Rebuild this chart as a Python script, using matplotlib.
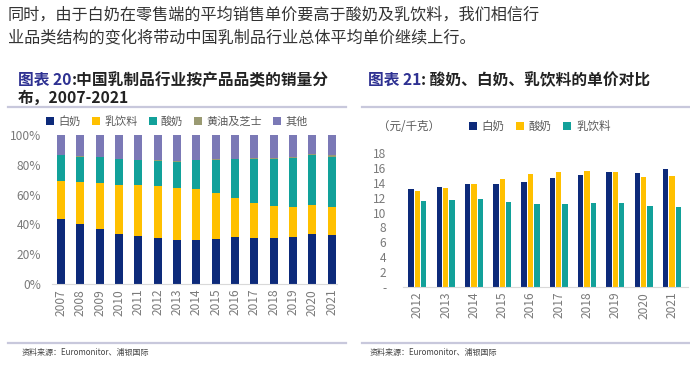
import numpy as np
import matplotlib
matplotlib.use('Agg')
import matplotlib.pyplot as plt
from matplotlib.lines import Line2D

plt.rcParams['font.family'] = ['Noto Sans CJK SC', 'DejaVu Sans']

## left chart: sales volume share by category (%)
years_l = ['2007','2008','2009','2010','2011','2012','2013','2014','2015','2016','2017','2018','2019','2020','2021']
milk = [43.4, 40.3, 36.9, 33.6, 32.0, 30.6, 29.5, 29.5, 30.2, 31.5, 31.1, 31.1, 31.3, 33.6, 33.1]
drink = [26.0, 28.2, 30.9, 33.1, 34.2, 35.2, 34.9, 34.3, 30.7, 26.0, 23.5, 21.5, 20.2, 19.2, 18.6]
yogurt = [17.0, 17.0, 17.2, 17.0, 16.8, 16.8, 17.5, 19.2, 22.5, 26.2, 29.5, 31.3, 33.1, 33.8, 33.8]
butter = [0.4, 0.4, 0.4, 0.4, 0.5, 0.5, 0.5, 0.5, 0.5, 0.5, 0.6, 0.6, 0.7, 0.8, 0.8]
other = [100 - a - b - c - d for a, b, c, d in zip(milk, drink, yogurt, butter)]
names_l = ['白奶', '乳饮料', '酸奶', '黄油及芝士', '其他']

## right chart: unit price (yuan/kg)
years_r = ['2012','2013','2014','2015','2016','2017','2018','2019','2020','2021']
price_milk = [13.1, 13.4, 13.8, 13.9, 14.1, 14.6, 15.1, 15.4, 15.3, 15.8]
price_yogurt = [12.9, 13.3, 13.9, 14.5, 15.2, 15.4, 15.6, 15.4, 14.8, 14.9]
price_drink = [11.6, 11.7, 11.8, 11.4, 11.2, 11.2, 11.3, 11.3, 10.9, 10.8]
names_r = ['白奶', '酸奶', '乳饮料']
yticks_r = [0, 2, 4, 6, 8, 10, 12, 14, 16, 18]

NAVY = '#0d2a7a'
GOLD = '#ffc000'
TEAL = '#12a19a'
OLIVE = '#9a9a72'
LAV = '#7b79b6'
GREY = '#595959'
TICK = '#7a7a7a'
SEP = '#c8c8dc'

W, H = 690, 372
fig = plt.figure(figsize=(6.9, 3.72), dpi=100)

def fx(px):
	return px / W

def fy(py):
	return 1 - py / H

## header paragraph
fig.text(fx(8), fy(15), '同时，由于白奶在零售端的平均销售单价要高于酸奶及乳饮料，我们相信行',
	fontsize=11.6, color='#333333', va='center', ha='left')
fig.text(fx(8), fy(39), '业品类结构的变化将带动中国乳制品行业总体平均单价继续上行。',
	fontsize=11.6, color='#333333', va='center', ha='left')

## titles, blue prefix then black rest
def title(x, y, prefix, rest):
	t = fig.text(fx(x), fy(y), prefix, fontsize=11.3, color='#2e3192', fontweight='bold', va='center')
	fig.canvas.draw()
	bb = t.get_window_extent()
	fig.text(bb.x1 / W, fy(y), rest, fontsize=11.3, color='#222222', fontweight='bold', va='center')

title(18, 80, '图表 20', ':中国乳制品行业按产品品类的销量分')
fig.text(fx(18), fy(98), '布，2007-2021', fontsize=11.3, color='#222222', fontweight='bold', va='center')
title(368, 80, '图表 21', ': 酸奶、白奶、乳饮料的单价对比')

## separator lines
for x0, x1 in [(8, 346), (362, 690)]:
	for y in (107, 343):
		fig.add_artist(Line2D([fx(x0), fx(x1)], [fy(y), fy(y)], color=SEP, lw=1.6))
fig.text(fx(22), fy(353), '资料来源：Euromonitor、浦银国际', fontsize=5.8, color='#444444', va='center')
fig.text(fx(370), fy(353), '资料来源：Euromonitor、浦银国际', fontsize=5.8, color='#444444', va='center')

## left chart
ax1 = fig.add_axes([fx(52), fy(284), fx(285), 149 / H])
x = np.arange(len(years_l))
bottom = np.zeros(len(years_l))
for vals, name, c in zip([milk, drink, yogurt, butter, other], names_l, [NAVY, GOLD, TEAL, OLIVE, LAV]):
	ax1.bar(x, vals, 0.42, bottom=bottom, color=c, label=name)
	bottom += np.array(vals)
ax1.set_ylim(0, 100)
ax1.set_xlim(-0.47, 14.28)
ax1.set_yticks([0, 20, 40, 60, 80, 100])
ax1.set_yticklabels(['%d%%' % v for v in [0, 20, 40, 60, 80, 100]])
ax1.set_xticks(x)
ax1.set_xticklabels(years_l, rotation=90)
ax1.tick_params(length=0, colors=TICK, labelsize=8.6)
ax1.tick_params(axis='y', pad=8)
for s in ['top', 'right', 'left']:
	ax1.spines[s].set_visible(False)
ax1.spines['bottom'].set_color('#d9d9d9')
ax1.legend(loc='center left', bbox_to_anchor=(-0.035, 1.093), ncol=5, frameon=False,
	handlelength=0.7, handleheight=0.7, handletextpad=0.4, columnspacing=1.0,
	fontsize=8.0, labelcolor=GREY, borderaxespad=0)

## right chart
ax2 = fig.add_axes([fx(403), fy(287), fx(285), 134 / H])
x = np.arange(len(years_r))
bw = 0.19
gap = 0.035
for i, (vals, name, c) in enumerate(zip([price_milk, price_yogurt, price_drink], names_r, [NAVY, GOLD, TEAL])):
	ax2.bar(x + (i - 1) * (bw + gap), vals, bw, color=c, label=name)
ax2.set_ylim(0, 18)
ax2.set_xlim(-0.51, 9.57)
ax2.set_yticks(yticks_r)
ax2.set_yticklabels(['-' if v == 0 else str(v) for v in yticks_r])
ax2.set_xticks(x)
ax2.set_xticklabels(years_r, rotation=90)
ax2.tick_params(length=0, colors=TICK, labelsize=8.6)
ax2.tick_params(axis='y', pad=12)
for s in ['top', 'right', 'left']:
	ax2.spines[s].set_visible(False)
ax2.spines['bottom'].set_color('#d9d9d9')
ax2.legend(loc='center left', bbox_to_anchor=(0.215, 1.20), ncol=3, frameon=False,
	handlelength=0.7, handleheight=0.7, handletextpad=0.4, columnspacing=1.0,
	fontsize=8.3, labelcolor=GREY, borderaxespad=0)
fig.text(fx(378), fy(127), '（元/千克）', fontsize=8.3, color=GREY, va='center')

fig.savefig('out.png', dpi=100)
